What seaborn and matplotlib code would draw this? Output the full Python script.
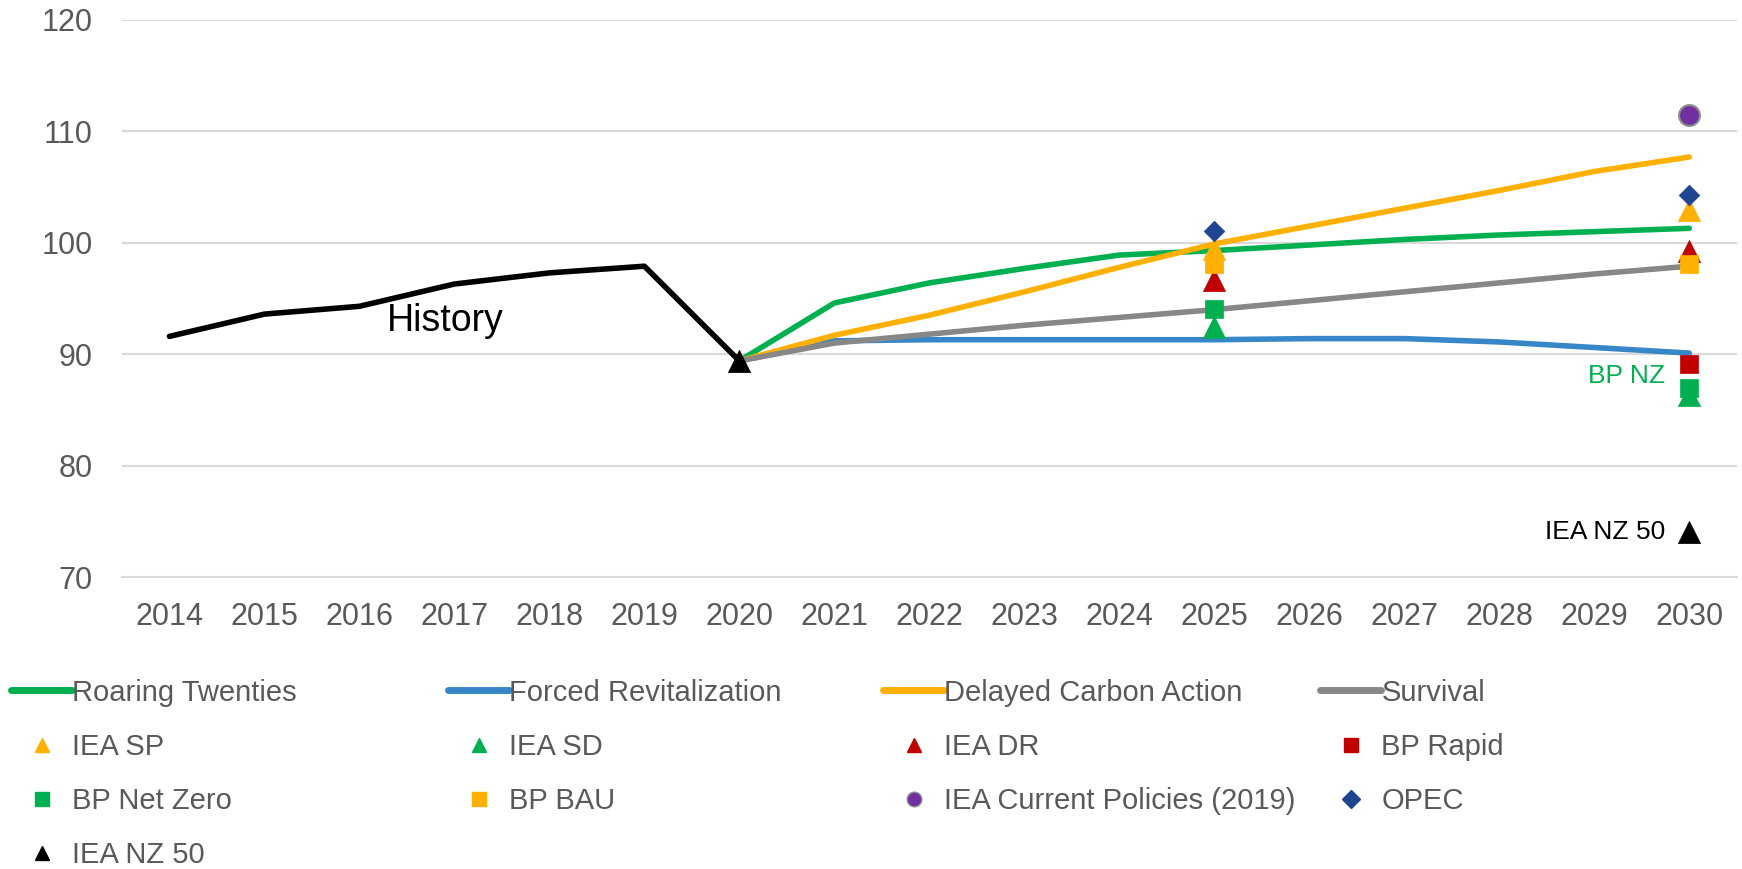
"""
Oil demand scenarios vs. history, with outside outlooks as markers.
"""

import matplotlib

matplotlib.use("Agg")
import matplotlib.pyplot as plt
import pandas as pd
import seaborn as sns
from matplotlib.lines import Line2D

# --- data ------------------------------------------------------------------
hist_years = [2014, 2015, 2016, 2017, 2018, 2019, 2020]
history = [91.6, 93.6, 94.3, 96.3, 97.3, 97.9, 89.4]

scen_years = [2020, 2021, 2022, 2023, 2024, 2025, 2026, 2027, 2028, 2029, 2030]
roaring = [89.4, 94.6, 96.4, 97.7, 98.9, 99.3, 99.8, 100.3, 100.7, 101.0, 101.3]
forced = [89.4, 91.2, 91.3, 91.3, 91.3, 91.3, 91.4, 91.4, 91.1, 90.6, 90.1]
delayed = [89.4, 91.7, 93.5, 95.6, 97.8, 99.9, 101.5, 103.1, 104.7, 106.4, 107.7]
survival = [89.4, 91.0, 91.8, 92.6, 93.3, 94.0, 94.8, 95.6, 96.4, 97.2, 97.9]

scenario_names = ["Roaring Twenties", "Forced Revitalization",
                  "Delayed Carbon Action", "Survival"]
scenario_values = [roaring, forced, delayed, survival]
scenario_colors = ["#00b050", "#3787c8", "#ffb000", "#878787"]

point_names = ["IEA SP", "IEA SD", "IEA DR", "BP Rapid", "BP Net Zero",
               "BP BAU", "IEA Current Policies (2019)", "OPEC", "IEA NZ 50"]
point_years = [[2025, 2030], [2025, 2030], [2025, 2030], [2030], [2025, 2030],
               [2025, 2030], [2030], [2025, 2030], [2020, 2030]]
point_values = [[99.4, 102.9], [92.4, 86.3], [96.7, 99.3], [89.1], [94.1, 87.0],
                [98.1, 98.1], [111.5], [101.1, 104.3], [89.4, 74.0]]
point_colors = ["#ffb000", "#00b050", "#c00000", "#c00000", "#00b050",
                "#ffb000", "#7030a0", "#1f4590", "#000000"]
point_markers = ["^", "^", "^", "s", "s", "s", "o", "D", "^"]
point_sizes = [16, 16, 16, 13.5, 13.5, 13.5, 15, 10.5, 16]

year_ticks = list(range(2014, 2031))

# --- styling ----------------------------------------------------------------
sns.set_theme(style="white")
plt.rcParams["font.family"] = ["Liberation Sans", "DejaVu Sans"]
TEXT_GREY = "#595959"
GRID_GREY = "#d9d9d9"
LW = 4.0

fig = plt.figure(figsize=(17.42, 8.69), dpi=100)
ax = fig.add_axes([0.070, 0.336, 0.927, 0.641])

hist_df = pd.DataFrame({"year": hist_years, "value": history})
sns.lineplot(data=hist_df, x="year", y="value", color="black", lw=LW,
             ax=ax, legend=False, zorder=3,
             solid_capstyle="round", solid_joinstyle="round")

for name, vals, col in zip(scenario_names, scenario_values, scenario_colors):
    df = pd.DataFrame({"year": scen_years, "value": vals})
    sns.lineplot(data=df, x="year", y="value", color=col, lw=LW,
                 ax=ax, legend=False, zorder=3,
                 solid_capstyle="round", solid_joinstyle="round")

for i, (name, yrs, vals, col, mk, ms) in enumerate(zip(
        point_names, point_years, point_values, point_colors,
        point_markers, point_sizes)):
    df = pd.DataFrame({"year": yrs, "value": vals})
    edge = "#8c8c8c" if mk == "o" else col
    sns.scatterplot(data=df, x="year", y="value", color=col, marker=mk,
                    s=ms ** 2, edgecolor=edge,
                    linewidth=1.5 if mk == "o" else 0.5,
                    ax=ax, legend=False, zorder=5 + i)

# annotations
ax.text(2016.9, 93.0, "History", fontsize=27, color="black",
        ha="center", va="center")
ax.text(2029.75, 88.0, "BP NZ", fontsize=19, color="#00b050",
        ha="right", va="center")
ax.text(2029.75, 74.0, "IEA NZ 50", fontsize=19, color="black",
        ha="right", va="center")

# axes
ax.set_xlim(2013.5, 2030.5)
ax.set_ylim(70, 120)
ax.set_xticks(year_ticks)
ax.set_xticklabels([str(y) for y in year_ticks])
ax.set_yticks([70, 80, 90, 100, 110, 120])
ax.tick_params(axis="x", labelsize=22, colors=TEXT_GREY, length=0, pad=18)
ax.tick_params(axis="y", labelsize=22, colors=TEXT_GREY, length=0, pad=21)
ax.set_xlabel("")
ax.set_ylabel("")
ax.grid(axis="y", color=GRID_GREY, lw=1.5)
ax.grid(axis="x", visible=False)
for side in ["top", "right", "left"]:
    ax.spines[side].set_visible(False)
ax.spines["bottom"].set_color(GRID_GREY)
ax.spines["bottom"].set_linewidth(1.5)

# legend, laid out row-major in four evenly spaced columns
handles = [Line2D([], [], color=c, lw=5, solid_capstyle="round")
           for c in scenario_colors]
handles += [Line2D([], [], ls="", marker=m, color=c,
                   markersize=9 if m == "D" else 10.5,
                   markeredgecolor="#8c8c8c" if m == "o" else c)
            for m, c in zip(point_markers, point_colors)]
labels = scenario_names + point_names

col_x = [11, 448, 883, 1320]
for k, x in enumerate(col_x):
    leg = fig.legend(handles[k::4], labels[k::4], loc="upper left",
                     bbox_to_anchor=(x / 1742, 0.219),
                     frameon=False, fontsize=21, labelcolor=TEXT_GREY,
                     handlelength=2.1, handletextpad=0.0, borderpad=0,
                     borderaxespad=0, labelspacing=0.9)

fig.savefig("out.png", dpi=100)
